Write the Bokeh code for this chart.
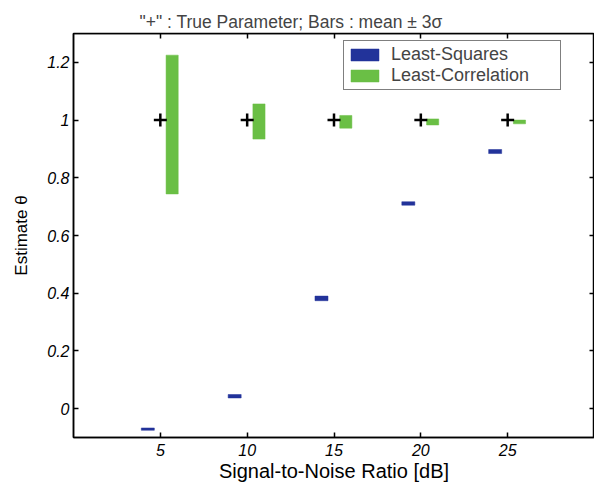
from bokeh.plotting import figure
from bokeh.models import ColumnDataSource, FixedTicker, LinearAxis, Range1d, Legend, LegendItem
from bokeh.transform import dodge
from bokeh.embed import file_html
from bokeh.resources import INLINE

# ---- data ----
snr = [5, 10, 15, 20, 25]
true_param = [1, 1, 1, 1, 1]
ls_low = [-0.075, 0.037, 0.374, 0.705, 0.884]
ls_high = [-0.067, 0.049, 0.390, 0.717, 0.898]
lc_low = [0.744, 0.934, 0.972, 0.983, 0.987]
lc_high = [1.225, 1.056, 1.016, 1.004, 1.000]

x_ticks = [5, 10, 15, 20, 25]
x_tick_labels = ["5", "10", "15", "20", "25"]
y_ticks = [0, 0.2, 0.4, 0.6, 0.8, 1.0, 1.2]
y_tick_labels = ["0", "0.2", "0.4", "0.6", "0.8", "1", "1.2"]
x_limits = (0, 30)
y_limits = (-0.1, 1.3)

title_text = '"+" : True Parameter; Bars : mean \u00b1 3\u03c3'
x_label = "Signal-to-Noise Ratio [dB]"
y_label = "Estimate \u03b8"

BLUE = "#22339a"
GREEN = "#6abf45"
FONT = "Liberation Sans"

src = ColumnDataSource(dict(snr=snr, tp=true_param, ls_low=ls_low, ls_high=ls_high,
                            lc_low=lc_low, lc_high=lc_high))

p = figure(width=594, height=486, x_range=Range1d(*x_limits), y_range=Range1d(*y_limits),
           output_backend="svg", toolbar_location=None,
           min_border_left=73, min_border_right=0, min_border_top=33, min_border_bottom=49)

p.title.text = title_text
p.title.align = "left"
p.title.text_font = FONT
p.title.text_font_size = "17.5px"
p.title.text_font_style = "normal"
p.title.offset = 66
p.title.standoff = 4

p.xgrid.visible = False
p.ygrid.visible = False
p.outline_line_color = "black"
p.outline_line_width = 1.5
p.background_fill_color = "white"
p.border_fill_color = "white"

def style_axis(ax, ticks, labels, show_labels=True):
    ax.ticker = FixedTicker(ticks=ticks)
    ax.minor_tick_line_color = None
    ax.minor_tick_in = 0
    ax.minor_tick_out = 0
    ax.major_tick_in = 5
    ax.major_tick_out = 0
    ax.major_tick_line_color = "black"
    ax.major_tick_line_width = 1.5
    ax.axis_line_color = "black"
    ax.axis_line_width = 1.5
    if show_labels:
        ax.major_label_overrides = {t: l for t, l in zip(ticks, labels)}
        ax.major_label_text_font = FONT
        ax.major_label_text_font_size = "16px"
        ax.major_label_text_font_style = "italic"
        ax.major_label_text_color = "black"
        ax.axis_label_text_font = FONT
        ax.axis_label_text_font_style = "normal"
        ax.axis_label_text_color = "black"
    else:
        ax.major_label_overrides = {t: "" for t in ticks}
        ax.major_label_text_font_size = "0px"
        ax.major_label_standoff = 0
        ax.axis_label_standoff = 0

style_axis(p.xaxis[0], x_ticks, x_tick_labels)
p.xaxis[0].axis_label = x_label
p.xaxis[0].axis_label_text_font_size = "20px"
p.xaxis[0].major_label_standoff = 6
p.xaxis[0].axis_label_standoff = 1

style_axis(p.yaxis[0], y_ticks, y_tick_labels)
p.yaxis[0].axis_label = y_label
p.yaxis[0].axis_label_text_font_size = "17px"
p.yaxis[0].major_label_standoff = 4
p.yaxis[0].axis_label_standoff = 13

# mirrored tick marks on top and right (fixed at the range limits)
top_ax = LinearAxis(fixed_location=y_limits[1])
style_axis(top_ax, x_ticks, x_tick_labels, show_labels=False)
p.add_layout(top_ax, "above")
right_ax = LinearAxis(fixed_location=x_limits[1])
style_axis(right_ax, y_ticks, y_tick_labels, show_labels=False)
p.add_layout(right_ax, "right")

r_ls = p.vbar(x=dodge("snr", -0.72, range=p.x_range), width=0.75, bottom="ls_low", top="ls_high",
              source=src, fill_color=BLUE, line_color=BLUE, line_width=0.5)
r_lc = p.vbar(x=dodge("snr", 0.68, range=p.x_range), width=0.7, bottom="lc_low", top="lc_high",
              source=src, fill_color=GREEN, line_color=GREEN, line_width=0.5)
p.scatter(x="snr", y="tp", source=src, marker="cross", size=13, line_width=2.5, color="black")

legend = Legend(items=[LegendItem(label="Least-Squares", renderers=[r_ls]),
                       LegendItem(label="Least-Correlation", renderers=[r_lc])],
                location=(270, 347))
legend.border_line_color = "black"
legend.border_line_width = 1.2
legend.background_fill_alpha = 1
legend.label_text_font = FONT
legend.label_text_font_size = "18px"
legend.glyph_width = 35
legend.glyph_height = 15
legend.label_standoff = 9
legend.padding = 3
legend.spacing = 0
legend.label_height = 17
legend.label_width = 166
legend.margin = 0
p.add_layout(legend)

open("out.html", "w").write(file_html(p, INLINE))
